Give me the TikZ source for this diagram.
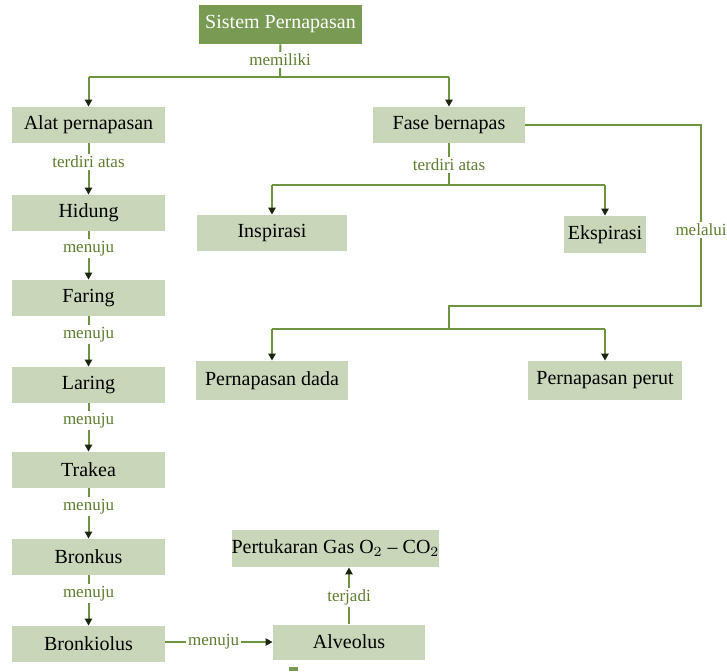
\documentclass[tikz,border=0pt]{standalone}
\usepackage{fontspec}
\setmainfont{Liberation Serif}
\usetikzlibrary{arrows.meta}
\definecolor{boxfill}{HTML}{C9D6BA}
\definecolor{topfill}{HTML}{789A52}
\definecolor{linegreen}{HTML}{6E9440}
\definecolor{lblgreen}{HTML}{5E7D2E}
\tikzset{
  box/.style={fill=boxfill, minimum width=76.5pt, minimum height=18pt, inner sep=0pt, font=\fontsize{10}{12}\selectfont},
  lbl/.style={fill=white, inner sep=1pt, text=lblgreen, font=\fontsize{8.5}{10}\selectfont},
  link/.style={draw=linegreen, line width=1pt},
  arr/.style={link, -{Triangle[length=3.5pt, width=3.6pt, color=black!75!linegreen]}},
}
\begin{document}
\begin{tikzpicture}[x=0.5pt, y=-0.5pt]
    \useasboundingbox (0,0) rectangle (727,671);
    \node[name=sistem, fill=topfill, text=white, minimum width=81.5pt, minimum height=19.5pt, inner sep=0pt, font=\fontsize{10}{12}\selectfont] at (280.5,24.5) {Sistem Pernapasan};
    \node[name=alat, box] at (88.5,125) {Alat pernapasan};
    \node[name=hidung, box] at (88.5,213) {Hidung};
    \node[name=faring, box] at (88.5,298) {Faring};
    \node[name=laring, box] at (88.5,385) {Laring};
    \node[name=trakea, box] at (88.5,470) {Trakea};
    \node[name=bronkus, box] at (88.5,557) {Bronkus};
    \node[name=bronkiolus, box] at (88.5,644) {Bronkiolus};
    \node[name=fase, box, minimum width=76pt] at (449,125) {Fase bernapas};
    \node[name=inspirasi, box, minimum width=75pt] at (272,233) {Inspirasi};
    \node[name=ekspirasi, box, minimum width=41pt, minimum height=18.5pt] at (605,234.5) {Ekspirasi};
    \node[name=dada, box, minimum width=76pt, minimum height=19.5pt] at (272,380.5) {Pernapasan dada};
    \node[name=perut, box, minimum width=77pt, minimum height=19.5pt] at (605,380.5) {Pernapasan perut};
    \node[name=alveolus, box, minimum width=76pt, minimum height=17.5pt] at (349,642) {Alveolus};
    \node[name=pertukaran, box, minimum width=100.5pt, minimum height=18.5pt] at (335.5,548.5) {Pertukaran Gas O$_2$ -- CO$_2$};

    % sistem -> alat, fase
    \coordinate (m1) at (280,77);
    \draw[link] (sistem) -- node[lbl, pos=0.48] {memiliki} (m1);
    \draw[link] (alat.north |- m1) -- (fase.north |- m1);
    \draw[arr] (alat.north |- m1) -- (alat);
    \draw[arr] (fase.north |- m1) -- (fase);

    % saluran
    \foreach \a/\b/\t in {alat/hidung/terdiri atas, hidung/faring/menuju, faring/laring/menuju,
        laring/trakea/menuju, trakea/bronkus/menuju, bronkus/bronkiolus/menuju}
        \draw[arr] (\a) -- node[lbl, pos=0.36] {\t} (\b);
    \draw[arr] (bronkiolus.east |- alveolus) -- node[lbl, pos=0.45] {menuju} (alveolus);
    \draw[arr] (alveolus) -- node[lbl, pos=0.47] {terjadi} (alveolus |- pertukaran.south);

    % fase
    \coordinate (f1) at (449,185);
    \draw[link] (fase) -- node[lbl, pos=0.52] {terdiri atas} (f1);
    \draw[link] (inspirasi.north |- f1) -- (ekspirasi.north |- f1);
    \draw[arr] (inspirasi.north |- f1) -- (inspirasi);
    \draw[arr] (ekspirasi.north |- f1) -- (ekspirasi);

    \coordinate (r1) at (701,306);
    \coordinate (r2) at (449,306);
    \coordinate (r3) at (449,329);
    \draw[link] (fase.east) -| node[lbl, pos=0.79] {melalui} (r1) -- (r2) -- (r3);
    \draw[link] (dada.north |- r3) -- (perut.north |- r3);
    \draw[arr] (dada.north |- r3) -- (dada);
    \draw[arr] (perut.north |- r3) -- (perut);

    \fill[topfill] (289,667) rectangle (298,671);
\end{tikzpicture}
\end{document}
